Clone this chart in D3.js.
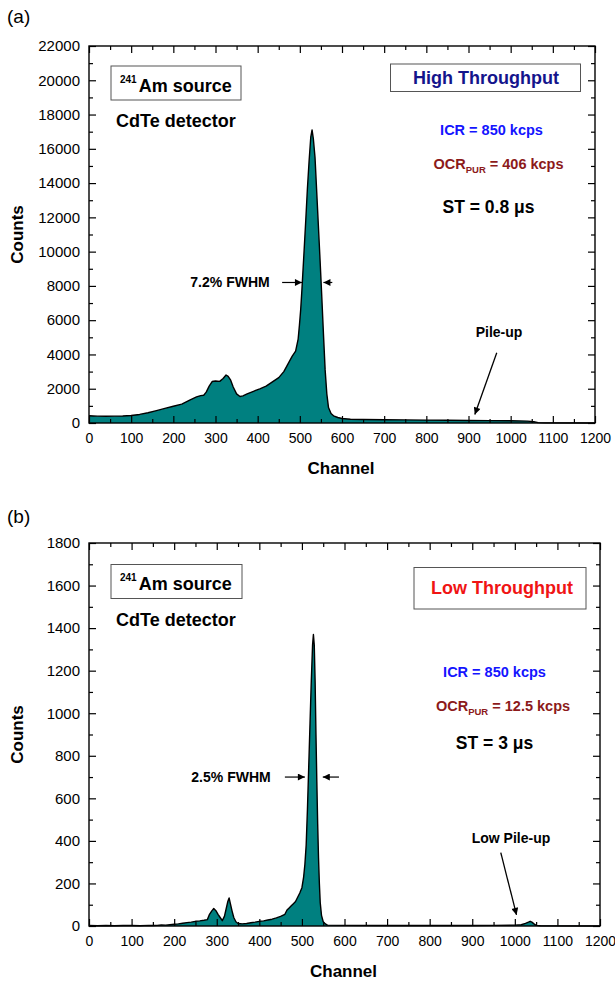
<!DOCTYPE html>
<html>
<head>
<meta charset="utf-8">
<script src="https://d3js.org/d3.v7.min.js"></script>
<style>
  body { margin: 0; background: #fff; }
  svg { display: block; }
  text { font-family: "Liberation Sans", Arial, sans-serif; }
</style>
</head>
<body>
<svg id="chart" width="615" height="983"></svg>
<script>
// ---- data ----
// (a) high throughput spectrum
let channelsA = [0, 10, 20, 40, 60, 80, 100, 120, 140, 160, 180, 200, 220, 240, 255, 265, 272, 278, 285, 292,
  300, 310, 318, 325, 330, 336, 342, 350, 358, 365, 375, 390, 405, 420, 435, 450, 462, 472, 482, 490,
  496, 499, 502, 505, 510, 514, 518, 522, 526, 529, 532, 536, 540, 544, 548, 552, 556, 560, 564, 568,
  574, 580, 590, 600, 620, 650, 700, 750, 800, 850, 900, 950, 1000, 1040, 1055, 1065, 1080, 1200];
let countsA = [420, 410, 400, 390, 400, 410, 440, 500, 600, 720, 850, 980, 1100, 1350, 1520, 1600, 1620, 1800, 2150, 2420,
  2450, 2430, 2600, 2800, 2720, 2500, 2100, 1700, 1550, 1580, 1700, 1850, 1990, 2150, 2400, 2650, 3000, 3450, 3900, 4200,
  4900, 5700, 6600, 7800, 10000, 11800, 13700, 15300, 16700, 17100, 16600, 15500, 13500, 11500, 9500, 7400, 5200, 3100, 1700, 900,
  550, 420, 320, 260, 220, 200, 190, 180, 170, 160, 150, 140, 130, 110, 70, 20, 5, 0];

// (b) low throughput spectrum
let channelsB = [0, 20, 40, 60, 80, 100, 120, 140, 150, 160, 170, 180, 190, 200, 210, 220, 230, 240, 250, 260,
  270, 278, 283, 288, 293, 298, 303, 308, 313, 318, 322, 326, 329, 332, 336, 340, 345, 350, 360, 370,
  380, 390, 400, 410, 420, 430, 440, 450, 460, 465, 470, 475, 480, 485, 490, 495, 500, 504, 507, 510,
  513, 516, 519, 522, 525, 527, 529, 531, 533, 535, 537, 539, 541, 543, 546, 550, 555, 560, 600, 700,
  800, 900, 950, 1000, 1015, 1025, 1032, 1036, 1040, 1045, 1050, 1060, 1200];
let countsB = [2, 1, 2, 1, 2, 2, 1, 3, 2, 3, 5, 4, 6, 8, 10, 13, 16, 18, 22, 24,
  27, 30, 55, 70, 82, 72, 55, 40, 25, 45, 80, 115, 132, 105, 70, 40, 20, 12, 10, 12,
  15, 18, 22, 24, 28, 32, 38, 45, 55, 75, 85, 95, 105, 115, 135, 155, 180, 230, 290, 380,
  550, 750, 950, 1150, 1320, 1370, 1320, 1150, 900, 680, 480, 320, 200, 110, 50, 20, 10, 4, 3, 2,
  2, 2, 3, 4, 6, 12, 18, 22, 18, 10, 3, 1, 0];

// tick labels
let xTickValues = d3.range(0, 1201, 100);
let yTicksA = d3.range(0, 22001, 2000);
let yTicksB = d3.range(0, 1801, 200);

// ---- panels ----
let panels = [
  { tag: "(a)", tagY: 23, left: 89, right: 595, top: 46, bottom: 423, yMax: 22000, yMinor: 1000,
    ch: channelsA, cnt: countsA, yTicks: yTicksA,
    boxTitle: "High Throughput", boxColor: "#14148c", ocr: "406 kcps", st: "ST = 0.8 \u03bcs",
    titleBox: [390.5, 64, 190, 27.5], titleX: 486, titleY: 84,
    amBox: [111, 66, 130, 34], amY: 91.5, cdteY: 127,
    icrX: 491.5, icrY: 135, ocrX: 498.5, ocrY: 169, stX: 488.5, stY: 213,
    fwhm: "7.2% FWHM", fwhmY: 8200, fwhmL: [458, 505], fwhmR: [577, 556], fwhmTextX: 230,
    pile: "Pile-up", pileTextX: 499, pileTextY: 337, pileArrow: [[967, 4100], [915, 500]] },
  { tag: "(b)", tagY: 523, left: 89, right: 600, top: 543, bottom: 926, yMax: 1800, yMinor: 100,
    ch: channelsB, cnt: countsB, yTicks: yTicksB,
    boxTitle: "Low Throughput", boxColor: "#f01414", ocr: "12.5 kcps", st: "ST = 3 \u03bcs",
    titleBox: [414, 567.5, 172, 41.5], titleX: 502, titleY: 593.5,
    amBox: [111, 564.5, 131, 34], amY: 590, cdteY: 626,
    icrX: 494.5, icrY: 677, ocrX: 503, ocrY: 711, stX: 494.5, stY: 749,
    fwhm: "2.5% FWHM", fwhmY: 700, fwhmL: [460, 507], fwhmR: [587, 549], fwhmTextX: 231,
    pile: "Low Pile-up", pileTextX: 511, pileTextY: 843, pileArrow: [[967, 345], [1004, 52]] }
];

let svg = d3.select("#chart");

// arrow head
svg.append("defs").append("marker")
  .attr("id", "head")
  .attr("viewBox", "0 0 10 10")
  .attr("refX", 10).attr("refY", 5)
  .attr("markerWidth", 10).attr("markerHeight", 7)
  .attr("markerUnits", "userSpaceOnUse")
  .attr("orient", "auto")
  .append("path").attr("d", "M0,0 L10,5 L0,10 Z").attr("fill", "#000");

panels.forEach(function(p) {
  let x = d3.scaleLinear().domain([0, 1200]).range([p.left, p.right]);
  let y = d3.scaleLinear().domain([0, p.yMax]).range([p.bottom, p.top]);
  let g = svg.append("g");
  let pts = p.ch.map(function(c, i) { return [c, p.cnt[i]]; });

  // filled spectrum
  g.append("path")
    .datum(pts)
    .attr("fill", "#008080")
    .attr("d", d3.area().x(d => x(d[0])).y0(y(0)).y1(d => y(d[1])));
  g.append("path")
    .datum(pts)
    .attr("fill", "none")
    .attr("stroke", "#000")
    .attr("stroke-width", 1.4)
    .attr("stroke-linejoin", "round")
    .attr("d", d3.line().x(d => x(d[0])).y(d => y(d[1])));

  // axes, ticks pointing inward on all sides
  let xMinor = d3.range(50, 1200, 100);
  let yMinorV = d3.range(p.yMinor, p.yMax, p.yMinor * 2);
  function tickAxis(axisFn, scale, vals, size, labels, tr) {
    let a = axisFn(scale).tickValues(vals).tickSize(-size).tickPadding(7);
    a.tickFormat(labels ? d3.format("d") : "");
    let ag = g.append("g").attr("transform", tr).call(a);
    ag.select(".domain").remove();
    ag.selectAll("line").attr("stroke-width", 1.2);
    return ag;
  }
  let bx = tickAxis(d3.axisBottom, x, xTickValues, 7, true, "translate(0," + p.bottom + ")");
  bx.selectAll("text").attr("font-size", 14).attr("fill", "#000")
    .attr("font-family", "Liberation Sans, Arial, sans-serif").attr("dy", "0.95em");
  tickAxis(d3.axisBottom, x, xMinor, 4, false, "translate(0," + p.bottom + ")");
  tickAxis(d3.axisTop, x, xTickValues, 7, false, "translate(0," + p.top + ")");
  tickAxis(d3.axisTop, x, xMinor, 4, false, "translate(0," + p.top + ")");
  let ly = tickAxis(d3.axisLeft, y, p.yTicks, 7, true, "translate(" + p.left + ",0)");
  ly.selectAll("text").attr("font-size", 15).attr("fill", "#000")
    .attr("font-family", "Liberation Sans, Arial, sans-serif").attr("x", -9);
  tickAxis(d3.axisLeft, y, yMinorV, 4, false, "translate(" + p.left + ",0)");
  tickAxis(d3.axisRight, y, p.yTicks, 7, false, "translate(" + p.right + ",0)");
  tickAxis(d3.axisRight, y, yMinorV, 4, false, "translate(" + p.right + ",0)");

  g.append("rect")
    .attr("x", p.left).attr("y", p.top)
    .attr("width", p.right - p.left).attr("height", p.bottom - p.top)
    .attr("fill", "none").attr("stroke", "#000").attr("stroke-width", 1.4);

  // axis titles
  g.append("text")
    .attr("x", (p.left + p.right) / 2 - 1).attr("y", p.bottom + 51)
    .attr("text-anchor", "middle").attr("font-size", 17).attr("font-weight", "bold")
    .text("Channel");
  g.append("text")
    .attr("transform", "translate(23," + (p.top + p.bottom) / 2 + ") rotate(-90)")
    .attr("text-anchor", "middle").attr("font-size", 17).attr("font-weight", "bold")
    .text("Counts");

  // panel tag
  g.append("text").attr("x", 7).attr("y", p.tagY)
    .attr("font-family", "Liberation Serif, Times New Roman, serif").attr("font-size", 19)
    .text(p.tag);

  // source box
  g.append("rect")
    .attr("x", p.amBox[0]).attr("y", p.amBox[1]).attr("width", p.amBox[2]).attr("height", p.amBox[3])
    .attr("fill", "#fff").attr("stroke", "#555").attr("stroke-width", 1);
  let am = g.append("text").attr("x", 120).attr("y", p.amY).attr("font-weight", "bold");
  am.append("tspan").attr("font-size", 10).attr("dy", -9).text("241");
  am.append("tspan").attr("font-size", 18).attr("dy", 9).attr("dx", 2).text("Am source");
  g.append("text").attr("x", 116).attr("y", p.cdteY)
    .attr("font-size", 18).attr("font-weight", "bold").text("CdTe detector");

  // throughput box
  g.append("rect")
    .attr("x", p.titleBox[0]).attr("y", p.titleBox[1]).attr("width", p.titleBox[2]).attr("height", p.titleBox[3])
    .attr("fill", "#fff").attr("stroke", "#555").attr("stroke-width", 1);
  g.append("text").attr("x", p.titleX).attr("y", p.titleY).attr("text-anchor", "middle")
    .attr("font-size", 18).attr("font-weight", "bold").attr("fill", p.boxColor).text(p.boxTitle);

  // rates
  g.append("text").attr("x", p.icrX).attr("y", p.icrY).attr("text-anchor", "middle")
    .attr("font-size", 14.5).attr("font-weight", "bold").attr("fill", "#1414ff").text("ICR = 850 kcps");
  let ocr = g.append("text").attr("x", p.ocrX).attr("y", p.ocrY).attr("text-anchor", "middle")
    .attr("font-size", 14.5).attr("font-weight", "bold").attr("fill", "#8c1a1a");
  ocr.append("tspan").text("OCR");
  ocr.append("tspan").attr("font-size", 9.5).attr("dy", 4).text("PUR");
  ocr.append("tspan").attr("dy", -4).text(" = " + p.ocr);
  g.append("text").attr("x", p.stX).attr("y", p.stY).attr("text-anchor", "middle")
    .attr("font-size", 17.5).attr("font-weight", "bold").attr("fill", "#000").text(p.st);

  // FWHM arrows
  g.append("text").attr("x", p.fwhmTextX).attr("y", y(p.fwhmY)).attr("dy", "0.35em")
    .attr("text-anchor", "middle").attr("font-size", 14).attr("font-weight", "bold").text(p.fwhm);
  [p.fwhmL, p.fwhmR].forEach(function(a) {
    g.append("line")
      .attr("x1", x(a[0])).attr("x2", x(a[1]))
      .attr("y1", y(p.fwhmY)).attr("y2", y(p.fwhmY))
      .attr("stroke", "#000").attr("stroke-width", 1.2)
      .attr("marker-end", "url(#head)");
  });

  // pile-up annotation
  g.append("text").attr("x", p.pileTextX).attr("y", p.pileTextY).attr("text-anchor", "middle")
    .attr("font-size", 14).attr("font-weight", "bold").text(p.pile);
  g.append("line")
    .attr("x1", x(p.pileArrow[0][0])).attr("y1", y(p.pileArrow[0][1]))
    .attr("x2", x(p.pileArrow[1][0])).attr("y2", y(p.pileArrow[1][1]))
    .attr("stroke", "#000").attr("stroke-width", 1.3)
    .attr("marker-end", "url(#head)");
});
</script>
</body>
</html>
